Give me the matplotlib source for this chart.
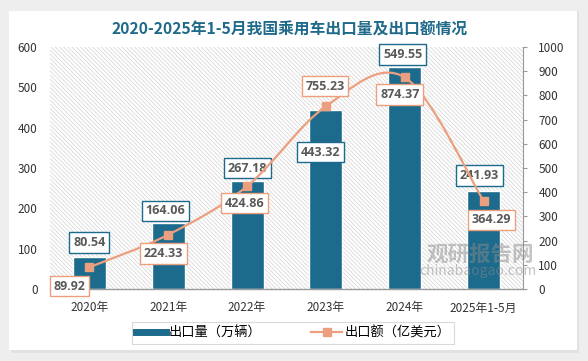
import matplotlib
matplotlib.use("Agg")
import matplotlib.pyplot as plt
from matplotlib.path import Path
from matplotlib.patches import PathPatch, Rectangle
from matplotlib.lines import Line2D
import numpy as np

plt.rcParams['font.family'] = ['Noto Sans CJK SC', 'DejaVu Sans']
plt.rcParams['hatch.linewidth'] = 0.6
plt.rcParams['hatch.color'] = '#d9d9d9'

categories = ['2020年', '2021年', '2022年', '2023年', '2024年', '2025年1-5月']
volume = [80.54, 164.06, 267.18, 443.32, 549.55, 241.93]      # 出口量（万辆）
value = [89.92, 224.33, 424.86, 755.23, 874.37, 364.29]       # 出口额（亿美元）
left_ticks = [0, 100, 200, 300, 400, 500, 600]
right_ticks = [0, 100, 200, 300, 400, 500, 600, 700, 800, 900, 1000]
title = '2020-2025年1-5月我国乘用车出口量及出口额情况'

BAR = '#1c6a8c'
LINE = '#ec9f7e'
TXT = '#595959'

fig = plt.figure(figsize=(5.88, 3.61), dpi=100)
fig.patch.set_facecolor('#eeeeee')
# card with shadow
fig.patches.append(Rectangle((11/588, 8/361), 568/588, 342/361,
                             transform=fig.transFigure, facecolor='#e2e2e2', edgecolor='none', zorder=-10))
fig.patches.append(Rectangle((9/588, 11/361), 568/588, 339/361,
                             transform=fig.transFigure, facecolor='white', edgecolor='none', zorder=-9))

ax = fig.add_axes([50/588, 1 - 289/361, 473/588, 242/361])
ax.set_facecolor('white')
ax.add_patch(Rectangle((0, 0), 1, 1, transform=ax.transAxes, facecolor='white',
                       edgecolor='#d9d9d9', linewidth=0, hatch='\\' * 8, zorder=0))
x = np.arange(len(categories))
ax.bar(x, volume, width=0.42, color=BAR, edgecolor='white', linewidth=1.0, zorder=2)
ax.set_xlim(-0.5, len(categories) - 0.5)
ax.set_ylim(0, 600)
ax.set_yticks(left_ticks)
ax.set_xticks(x)
ax.set_xticklabels(categories, fontsize=8.5, color='#333333')
ax.tick_params(axis='y', length=0, labelsize=8.5, labelcolor='#333333', pad=9)
ax.tick_params(axis='x', length=0, pad=9)
for s in ['top', 'left', 'right']:
    ax.spines[s].set_visible(False)
ax.spines['bottom'].set_color('#999999')
ax.spines['bottom'].set_linewidth(1.0)

ax2 = ax.twinx()
ax2.set_ylim(0, 1000)
ax2.set_yticks(right_ticks)
ax2.tick_params(axis='y', length=3, color='#999999', labelsize=8.5, labelcolor='#333333', pad=8)
for s in ['top', 'left', 'bottom']:
    ax2.spines[s].set_visible(False)
ax2.spines['right'].set_color('#999999')

# smooth line (Catmull-Rom -> cubic Bezier), through the data points
pts = np.column_stack([x, value]).astype(float)
verts = [tuple(pts[0])]
codes = [Path.MOVETO]
n = len(pts)
for i in range(n - 1):
    p0 = pts[i - 1] if i > 0 else pts[i]
    p1 = pts[i]
    p2 = pts[i + 1]
    p3 = pts[i + 2] if i + 2 < n else pts[i + 1]
    c1 = p1 + (p2 - p0) / 6.0
    c2 = p2 - (p3 - p1) / 6.0
    verts += [tuple(c1), tuple(c2), tuple(p2)]
    codes += [Path.CURVE4] * 3
ax2.add_patch(PathPatch(Path(verts, codes), facecolor='none', edgecolor=LINE, linewidth=1.6, zorder=3))
ax2.plot(x, value, linestyle='none', marker='s', markersize=6, color=LINE, zorder=4)

# data labels: offsets in pixels (dx, dy)
bar_off = [(0, 14), (-3, 12), (0, 13), (-5, -42), (-2, 13), (-4, 16)]
line_off = [(-20, -19), (-5, -19), (-3, -17), (-1, 20), (-5, -17), (8, -19)]
lab_font = dict(fontsize=9, fontweight='bold', color=TXT, family=['Open Sans', 'DejaVu Sans'])
for i, v in enumerate(volume):
    ax.annotate(f'{v:.2f}', (x[i], v), xytext=bar_off[i], textcoords='offset pixels',
                ha='center', va='center', zorder=6, **lab_font,
                bbox=dict(boxstyle='square,pad=0.3', fc='white', ec=BAR, lw=1.0))
for i, v in enumerate(value):
    ax2.annotate(f'{v:.2f}', (x[i], v), xytext=line_off[i], textcoords='offset pixels',
                 ha='center', va='center', zorder=6, **lab_font,
                 bbox=dict(boxstyle='square,pad=0.3', fc='white', ec=LINE, lw=1.0))

fig.text(290/588, 1 - 30/361, title, ha='center', va='center', fontsize=11.3,
         fontweight='bold', color='#1f6a8a')

# watermark
fig.text(480/588, 1 - 254/361, '观研报告网', ha='center', va='center', fontsize=15.5,
         fontweight='bold', color='#8a8a8a', alpha=0.5, zorder=10)
fig.text(478/588, 1 - 271/361, 'chinabaogao.com', ha='center', va='center', fontsize=10,
         color='#8a8a8a', alpha=0.5, zorder=10)

handles = [Line2D([0], [0], color=BAR, lw=5),
           Line2D([0], [0], color=LINE, lw=1.6, marker='s', markersize=6)]
leg = fig.legend(handles, ['出口量（万辆）', '出口额（亿美元）'], loc='center',
                 bbox_to_anchor=(293/588, 1 - 333/361), ncol=2, fontsize=9.5,
                 frameon=True, fancybox=False, edgecolor='#d0d0d0', handlelength=2.3,
                 columnspacing=3.8, handletextpad=0.2, borderpad=0.3)
leg.get_frame().set_linewidth(0.8)

fig.savefig('out.png', dpi=100, facecolor=fig.get_facecolor())
